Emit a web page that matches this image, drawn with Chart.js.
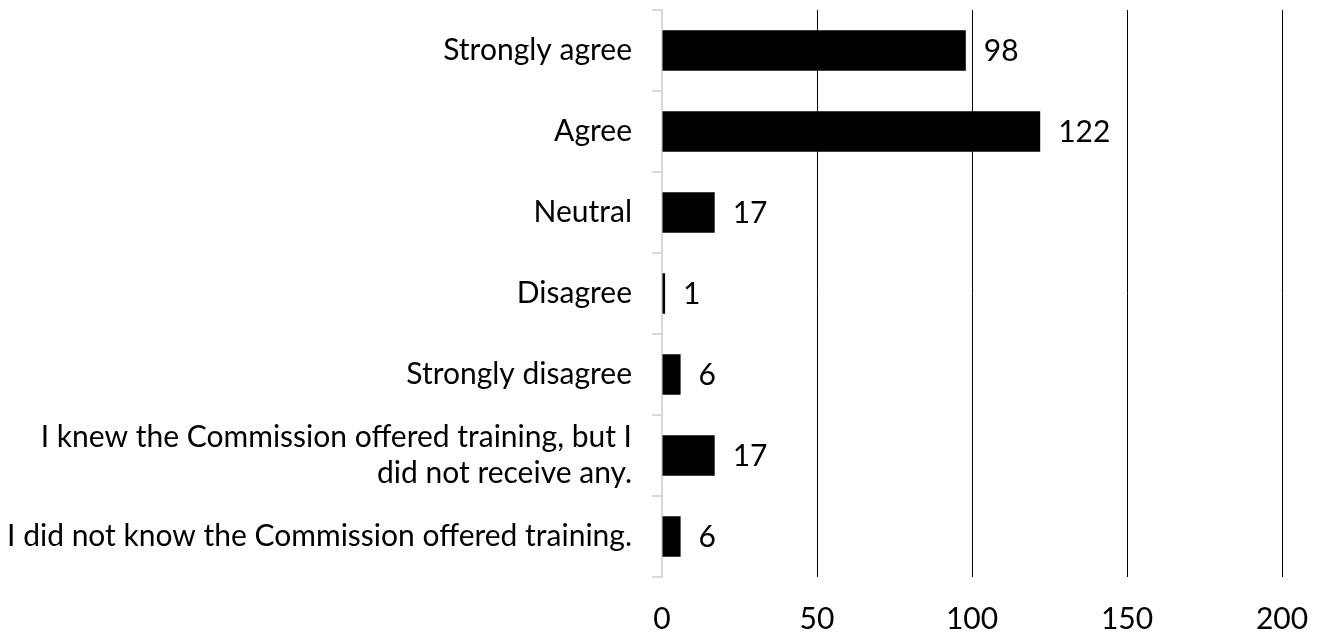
<!DOCTYPE html>
<html>
<head>
<meta charset="utf-8">
<script src="https://cdn.jsdelivr.net/npm/chart.js@4"></script>
<style>
  body { margin: 0; background: #fff; }
  #wrap { width: 1318px; height: 634px; }
</style>
</head>
<body>
<div id="wrap"><canvas id="trainingchart" width="1318" height="634"></canvas></div>
<script>
const categories = [
  "Strongly agree",
  "Agree",
  "Neutral",
  "Disagree",
  "Strongly disagree",
  ["I knew the Commission offered training, but I", "did not receive any."],
  "I did not know the Commission offered training.",
];
const responses = [98, 122, 17, 1, 6, 17, 6];
const xTicks = [0, 50, 100, 150, 200];

const FONT = { family: "Lato, 'Open Sans', sans-serif", size: 30 };

// writes the count just past the end of each bar
const barValues = {
  id: "barValues",
  afterDatasetsDraw(chart) {
    const ctx = chart.ctx;
    const meta = chart.getDatasetMeta(0);
    ctx.save();
    ctx.font = FONT.size + "px " + FONT.family;
    ctx.fillStyle = "#000";
    ctx.textAlign = "left";
    ctx.textBaseline = "middle";
    meta.data.forEach((bar, i) => {
      ctx.fillText(String(responses[i]), bar.x + 18, bar.y + 1);
    });
    ctx.restore();
  },
};

Chart.defaults.font.family = FONT.family;
Chart.defaults.font.size = FONT.size;
Chart.defaults.color = "#000";

new Chart(document.getElementById("trainingchart"), {
  type: "bar",
  data: {
    labels: categories,
    datasets: [
      {
        label: "Responses",
        data: responses,
        backgroundColor: "#000",
        borderWidth: 0,
        barPercentage: 0.5,
        categoryPercentage: 1,
      },
    ],
  },
  options: {
    indexAxis: "y",
    responsive: false,
    animation: false,
    layout: { padding: { top: 10, right: 36, left: 0, bottom: 0 } },
    scales: {
      x: {
        min: 0,
        max: 200,
        afterBuildTicks: (axis) => {
          axis.ticks = xTicks.map((v) => ({ value: v }));
        },
        afterFit: (axis) => {
          axis.height = 57;
          axis.paddingLeft = 0;
          axis.paddingRight = 0;
        },
        border: { display: false },
        grid: {
          color: (c) => (c.tick && c.tick.value === 0 ? "rgba(0,0,0,0)" : "#000"),
          lineWidth: 1,
          drawTicks: false,
        },
        ticks: { padding: 24, maxRotation: 0 },
      },
      y: {
        afterFit: (axis) => {
          axis.width = 662;
          axis.paddingTop = 0;
          axis.paddingBottom = 0;
        },
        border: { display: true, color: "#d9d9d9", width: 2 },
        grid: {
          drawOnChartArea: false,
          drawTicks: true,
          tickLength: 10,
          color: "#d9d9d9",
          lineWidth: 2,
        },
        ticks: { padding: 20, autoSkip: false },
      },
    },
    plugins: {
      legend: { display: false },
      tooltip: { enabled: false },
    },
  },
  plugins: [barValues],
});
</script>
</body>
</html>
